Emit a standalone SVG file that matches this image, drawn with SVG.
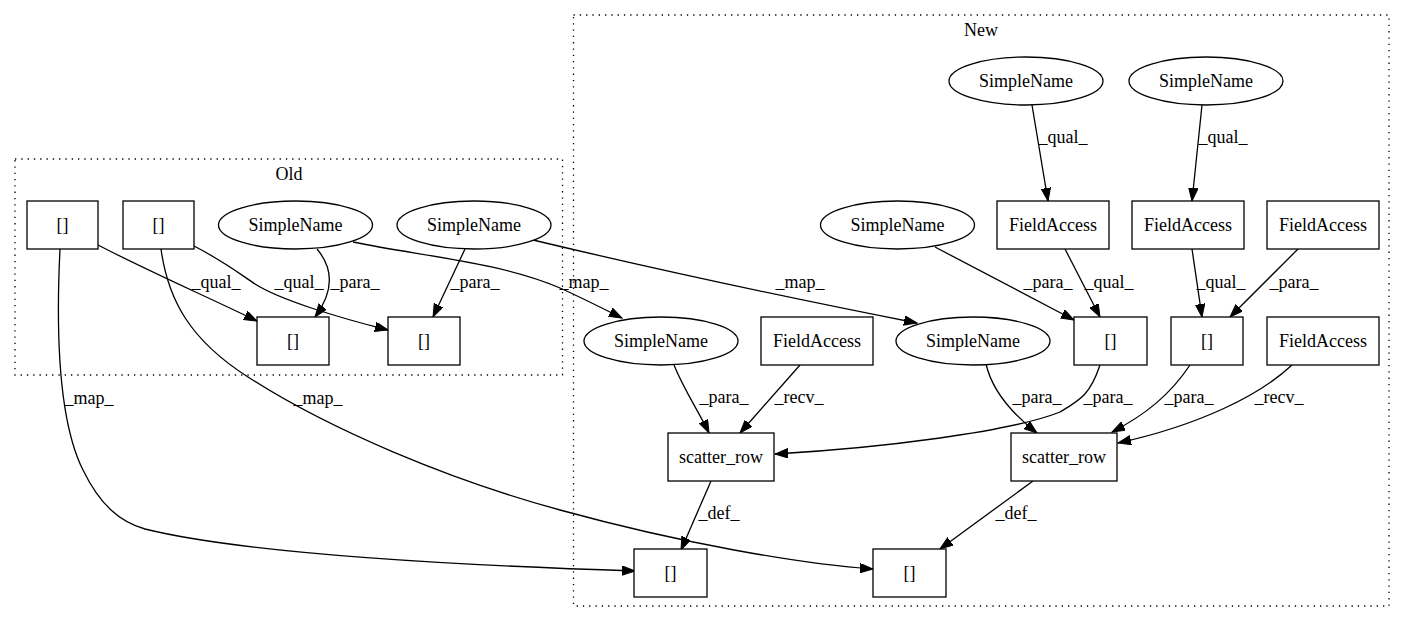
<svg xmlns="http://www.w3.org/2000/svg" width="1405" height="624" viewBox="0 0 1405 624" font-family="'Liberation Serif', 'DejaVu Serif', serif" font-size="18">
<style>
.cl{fill:none;stroke:#000;stroke-width:1.3;stroke-dasharray:1.3,5}
.nd{fill:#fff;stroke:#000;stroke-width:1.3}
.e{fill:none;stroke:#000;stroke-width:1.3;marker-end:url(#ah)}
text{font-family:'Liberation Serif','DejaVu Serif',serif;font-size:18px;fill:#000;text-anchor:middle}
</style>
<defs>
<marker id="ah" markerUnits="userSpaceOnUse" markerWidth="14" markerHeight="10" refX="13" refY="4.7" orient="auto">
<path d="M0,0 L13,4.7 L0,9.4 z" fill="#000" stroke="#000" stroke-width="1"/>
</marker>
</defs>
<rect width="1405" height="624" fill="#fff"/>
<g id="clusters">
<rect class="cl" x="15" y="159" width="547.5" height="216"/>
<text x="289" y="180">Old</text>
<rect class="cl" x="573.5" y="15" width="815.5" height="591"/>
<text x="981" y="36">New</text>
</g>
<g id="connectors">
<path class="e" d="M98,245 C150,272 210,298 257,321"/>
<text x="216" y="288">_qual_</text>
<path class="e" d="M194,246 C225,262 240,274 255,284 C280,300 340,318 388,330"/>
<text x="299" y="288">_qual_</text>
<path class="e" d="M317,249 C333,268 335,290 315,317"/>
<text x="355" y="288">_para_</text>
<path class="e" d="M465,249 L433,317"/>
<text x="475" y="288">_para_</text>
<path class="e" d="M353,242 C420,256 500,262 560,288 C580,297 600,307 622,318"/>
<text x="584" y="288">_map_</text>
<path class="e" d="M533,240 C650,268 800,300 917,323"/>
<text x="800" y="288">_map_</text>
<path class="e" d="M60,249 C56,330 58,420 83,470 C100,505 120,522 145,529 C250,555 480,566 635,571"/>
<text x="89" y="404">_map_</text>
<path class="e" d="M161,249 C168,300 190,340 248,377 C330,430 450,480 560,510 C680,543 800,564 873,569"/>
<text x="318" y="404">_map_</text>
<path class="e" d="M1032,105 L1048,201"/>
<text x="1063" y="143">_qual_</text>
<path class="e" d="M1202,105 L1192,201"/>
<text x="1223" y="143">_qual_</text>
<path class="e" d="M935,247 L1074,320"/>
<text x="1048" y="288">_para_</text>
<path class="e" d="M1065,249 L1100,317"/>
<text x="1109" y="288">_qual_</text>
<path class="e" d="M1192,249 L1202,317"/>
<text x="1221" y="288">_qual_</text>
<path class="e" d="M1298,249 L1230,317"/>
<text x="1294" y="288">_para_</text>
<path class="e" d="M674,365 C684,390 698,410 709,433"/>
<text x="724" y="403">_para_</text>
<path class="e" d="M800,365 L740,433"/>
<text x="799" y="403">_recv_</text>
<path class="e" d="M1100,365 C1090,395 1080,400 1060,412 C1010,432 880,448 775,454"/>
<text x="1108" y="403">_para_</text>
<path class="e" d="M986,364 C992,390 1010,412 1037,433"/>
<text x="1037" y="403">_para_</text>
<path class="e" d="M1190,365 C1170,395 1145,415 1112,432"/>
<text x="1189" y="403">_para_</text>
<path class="e" d="M1292,365 C1260,395 1200,425 1118,443"/>
<text x="1279" y="403">_recv_</text>
<path class="e" d="M711,481 L681,550"/>
<text x="719" y="519">_def_</text>
<path class="e" d="M1033,481 L940,549"/>
<text x="1016" y="519">_def_</text>
</g>
<g id="o1"><rect class="nd" x="27" y="201" width="71" height="48"/><text x="62.5" y="231">[]</text></g>
<g id="o2"><rect class="nd" x="123" y="201" width="71" height="48"/><text x="158.5" y="231">[]</text></g>
<g id="o3"><ellipse class="nd" cx="295.5" cy="225" rx="77" ry="24"/><text x="295.5" y="231">SimpleName</text></g>
<g id="o4"><ellipse class="nd" cx="474" cy="225" rx="77" ry="24"/><text x="474" y="231">SimpleName</text></g>
<g id="o5"><rect class="nd" x="257" y="317" width="72" height="48"/><text x="293" y="347">[]</text></g>
<g id="o6"><rect class="nd" x="388" y="317" width="72" height="48"/><text x="424" y="347">[]</text></g>
<g id="n1"><ellipse class="nd" cx="1026" cy="81" rx="77" ry="24"/><text x="1026" y="87">SimpleName</text></g>
<g id="n2"><ellipse class="nd" cx="1206" cy="81" rx="77" ry="24"/><text x="1206" y="87">SimpleName</text></g>
<g id="n3"><ellipse class="nd" cx="897.5" cy="225" rx="77" ry="24"/><text x="897.5" y="231">SimpleName</text></g>
<g id="n4"><rect class="nd" x="997" y="201" width="112" height="48"/><text x="1053" y="231">FieldAccess</text></g>
<g id="n5"><rect class="nd" x="1132" y="201" width="112" height="48"/><text x="1188" y="231">FieldAccess</text></g>
<g id="n6"><rect class="nd" x="1267" y="201" width="112" height="48"/><text x="1323" y="231">FieldAccess</text></g>
<g id="n7"><ellipse class="nd" cx="661" cy="341" rx="77" ry="24"/><text x="661" y="347">SimpleName</text></g>
<g id="n8"><rect class="nd" x="761" y="317" width="112" height="48"/><text x="817" y="347">FieldAccess</text></g>
<g id="n9"><ellipse class="nd" cx="973" cy="341" rx="77" ry="24"/><text x="973" y="347">SimpleName</text></g>
<g id="n10"><rect class="nd" x="1074" y="317" width="73" height="48"/><text x="1110.5" y="347">[]</text></g>
<g id="n11"><rect class="nd" x="1171" y="317" width="72" height="48"/><text x="1207" y="347">[]</text></g>
<g id="n12"><rect class="nd" x="1267" y="317" width="112" height="48"/><text x="1323" y="347">FieldAccess</text></g>
<g id="n13"><rect class="nd" x="668" y="433" width="106" height="48"/><text x="721" y="463">scatter_row</text></g>
<g id="n14"><rect class="nd" x="1011" y="433" width="106" height="48"/><text x="1064" y="463">scatter_row</text></g>
<g id="n15"><rect class="nd" x="634" y="549" width="73" height="48"/><text x="670.5" y="579">[]</text></g>
<g id="n16"><rect class="nd" x="873" y="549" width="73" height="48"/><text x="909.5" y="579">[]</text></g>
</svg>
